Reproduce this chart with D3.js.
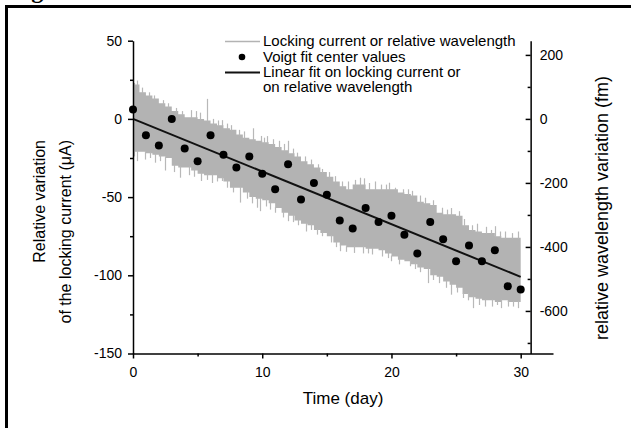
<!DOCTYPE html>
<html><head><meta charset="utf-8">
<script src="https://cdn.jsdelivr.net/npm/d3@7"></script>
<style>
body{margin:0;background:#fff}
svg{display:block}
text{font-family:"Liberation Sans",Arial,Helvetica,sans-serif;fill:#000}
</style>
</head><body>
<svg id="chart" width="631" height="428"></svg>
<script>
// ---------- data ----------
const voigtDays = [0,1,2,3,4,5,6,7,8,9,10,11,12,13,14,15,16,17,18,19,20,21,22,23,24,25,26,27,28,29,30];
const voigtValues = [6,-10.5,-17,0,-19,-27,-10.5,-23,-31,-24,-35,-45,-29,-51.5,-41,-48.5,-65,-70,-57,-66,-62,-74,-86,-66,-77,-91,-81,-91,-84,-107,-109];
const fitDays = [0,30];
const fitValues = [0,-101];
const bandStep = 0.5;
const bandUpper = [22,17,15,13,10,8,5,3,1,1,0,-1,-3,-4,-6,-7,-10,-12,-13,-14,-15,-16,-18,-20,-22,-24,-27,-29,-31,-34,-37,-40,-43,-45,-42,-42,-45,-45,-45,-45,-45,-47,-48,-49,-53,-54,-55,-60,-61,-61,-62,-68,-71,-72,-73,-73,-75,-76,-76,-76,-76];
const bandLower = [-21,-21,-22,-23,-24,-25,-30,-31,-31,-33,-35,-36,-36,-38,-40,-44,-44,-47,-50,-51,-52,-54,-57,-60,-62,-65,-67,-68,-71,-73,-75,-79,-81,-82,-82,-82,-83,-83,-84,-86,-88,-90,-91,-93,-95,-96,-100,-101,-104,-106,-108,-112,-114,-115,-116,-116,-117,-116,-117,-117,-117];
const spikesUp = [[0.1,23],[0.3,24.5],[0.7,20],[1.2,17],[1.6,15],[2.3,12],[2.7,10],[3.3,7],[3.8,5],[4.5,5.6],[4.9,5],[5.2,4],[5.7,12.8],[6.2,0],[6.6,-1],[6.9,-0.8],[7.3,-3],[7.6,-4],[8.2,-7],[8.6,-8],[9.3,-6],[9.9,-10.9],[10.1,-12],[10.4,-11],[10.8,-13],[11.3,-14],[11.7,-16],[12,-14],[12.4,-19],[12.7,-21.6],[13.3,-24],[13.8,-26],[14.3,-29],[14.6,-32],[15.2,-34],[15.6,-36.6],[16.2,-40],[16.6,-40],[17.2,-39],[17.6,-37.6],[17.9,-38],[18.3,-41],[18.7,-40],[19.2,-42],[19.6,-42],[19.8,-40.8],[20.3,-44],[20.9,-45],[21.3,-45],[21.6,-46],[22.2,-49],[22.6,-50.4],[23.2,-52],[23.9,-56.8],[24.3,-58],[24.6,-57],[25.2,-59],[25.6,-64],[26.2,-68],[26.6,-67],[27.3,-69],[27.7,-71],[28.0,-68.6],[28.4,-72],[28.8,-72],[29.3,-73],[29.8,-72]];
const spikesDown = [[0.1,-24],[0.3,-27],[0.9,-26],[1.3,-25],[1.7,-28],[2.1,-27],[2.5,-33],[3.2,-34],[3.6,-37.6],[4.3,-36],[4.7,-37],[5.3,-39.7],[5.7,-39],[6.1,-41],[6.5,-40],[6.9,-39.7],[7.3,-44],[7.7,-47],[8.3,-53.5],[8.8,-51],[9.2,-54],[9.6,-56.8],[9.8,-59],[10.3,-56],[10.6,-58],[11,-60],[11.6,-63],[12,-65.4],[12.4,-66],[12.8,-68],[13.4,-72],[13.8,-71],[14.2,-74],[14.6,-75],[15.3,-79],[15.7,-82],[16,-84.6],[16.5,-85],[17.1,-85.7],[17.8,-86],[18.2,-86],[18.5,-86.7],[19.3,-88],[19.7,-89],[20,-91],[20.6,-93],[21.4,-94.2],[21.8,-96],[22.2,-98],[22.8,-105],[23.2,-103],[23.7,-105],[24.2,-108],[24.6,-112.4],[25.1,-111],[25.5,-114.5],[25.9,-116],[26.3,-121],[26.8,-119],[27.2,-120],[27.8,-120],[28.2,-119],[28.5,-121],[29.0,-120],[29.4,-120],[29.8,-121]];
const xTicks = [0,10,20,30];
const xMinorTicks = [5,15,25];
const leftTicks = [50,0,-50,-100,-150];
const leftMinorTicks = [25,-25,-75,-125];
const rightTicks = [200,0,-200,-400,-600];
const rightMinorTicks = [100,-100,-300,-500,-700];
const xDomain = [0,32.5];
const leftDomain = [-150,50];
const rightDomain = [-733,244.4];
const rightAxisDay = 30.77;
const legendLabels = ["Locking current or relative wavelength","Voigt fit center values","Linear fit on locking current or","on relative wavelength"];
const xTitle = "Time (day)";
const leftTitle = ["Relative variation","of the locking current (\u03bcA)"];
const rightTitle = "relative wavelength variation (fm)";

// ---------- drawing ----------
const svg = d3.select("#chart");
const x = d3.scaleLinear().domain(xDomain).range([133,553]);
const yL = d3.scaleLinear().domain(leftDomain).range([353.5,40.7]);
const yR = d3.scaleLinear().domain(rightDomain).range([353.5,40.7]);
const plain = d => String(d);

// frame remnants
svg.append("text").attr("x",10).attr("y",-2).attr("font-size",24)
  .style("font-family","'Liberation Serif',serif").attr("font-weight","bold").text("Fig.");
svg.append("rect").attr("x",5).attr("y",5).attr("width",626).attr("height",3).attr("fill","#000");
svg.append("rect").attr("x",5).attr("y",5).attr("width",3).attr("height",423).attr("fill","#000");

// band
const bandData = bandUpper.map((u,i)=>({d:i*bandStep,u:u,l:bandLower[i]}));
svg.append("path").datum(bandData)
  .attr("d",d3.area().x(p=>x(p.d)).y0(p=>yL(p.l)).y1(p=>yL(p.u)).curve(d3.curveStepAfter))
  .attr("fill","#b3b3b3");
const envAt = (day,key)=>bandData[Math.min(bandData.length-1,Math.floor(day/bandStep))][key];
svg.append("g").selectAll("line").data(spikesUp).join("line")
  .attr("x1",p=>Math.round(x(p[0]))+0.5).attr("x2",p=>Math.round(x(p[0]))+0.5)
  .attr("y1",p=>yL(envAt(p[0],"u"))+1).attr("y2",p=>yL(p[1]))
  .attr("stroke","#b8b8b8").attr("stroke-width",1.2);
svg.append("g").selectAll("line").data(spikesDown).join("line")
  .attr("x1",p=>Math.round(x(p[0]))+0.5).attr("x2",p=>Math.round(x(p[0]))+0.5)
  .attr("y1",p=>yL(envAt(p[0],"l"))-1).attr("y2",p=>yL(p[1]))
  .attr("stroke","#b8b8b8").attr("stroke-width",1.2);

// fit line
svg.append("path").datum(fitDays.map((d,i)=>[d,fitValues[i]]))
  .attr("d",d3.line().x(p=>x(p[0])).y(p=>yL(p[1])))
  .attr("stroke","#111").attr("stroke-width",2).attr("fill","none");

// dots
svg.append("g").selectAll("circle").data(voigtDays).join("circle")
  .attr("cx",(d)=>x(d)).attr("cy",(d,i)=>yL(voigtValues[i])).attr("r",4).attr("fill","#000");

// axes
function styleAxis(g,fs){
  g.selectAll("path,line").attr("stroke","#000").attr("stroke-width",1.5);
  g.selectAll("text").attr("font-size",fs).style("font-family","'Liberation Sans',Arial,sans-serif");
}
const gx = svg.append("g").attr("transform",`translate(0,${yL(-150)})`)
  .call(d3.axisBottom(x).tickValues(xTicks).tickFormat(plain).tickSize(5).tickPadding(8.5).tickSizeOuter(0));
styleAxis(gx,14);
const gxm = svg.append("g").attr("transform",`translate(0,${yL(-150)})`)
  .call(d3.axisBottom(x).tickValues(xMinorTicks).tickSize(3).tickFormat("").tickSizeOuter(0));
styleAxis(gxm,14); gxm.select(".domain").remove();

const gl = svg.append("g").attr("transform",`translate(${x(0)},0)`)
  .call(d3.axisLeft(yL).tickValues(leftTicks).tickFormat(plain).tickSize(5).tickPadding(6).tickSizeOuter(0));
styleAxis(gl,14);
const glm = svg.append("g").attr("transform",`translate(${x(0)},0)`)
  .call(d3.axisLeft(yL).tickValues(leftMinorTicks).tickSize(3).tickFormat("").tickSizeOuter(0));
styleAxis(glm,14); glm.select(".domain").remove();

const gr = svg.append("g").attr("transform",`translate(${x(rightAxisDay)},0)`)
  .call(d3.axisRight(yR).tickValues(rightTicks).tickFormat(plain).tickSize(-5).tickPadding(9).tickSizeOuter(0));
styleAxis(gr,14);
const grm = svg.append("g").attr("transform",`translate(${x(rightAxisDay)},0)`)
  .call(d3.axisRight(yR).tickValues(rightMinorTicks).tickSize(-3).tickFormat("").tickSizeOuter(0));
styleAxis(grm,14); grm.select(".domain").remove();

// titles
svg.append("text").attr("x",(x.range()[0]+x.range()[1])/2).attr("y",404).attr("text-anchor","middle")
  .attr("font-size",17).text(xTitle);
leftTitle.forEach((t,i)=>{
  svg.append("text").attr("transform",`translate(${[45,71][i]},140) rotate(-90)`)
    .attr("text-anchor","end").attr("font-size",16).text(t);
});
svg.append("text").attr("transform",`translate(608,208) rotate(-90)`)
  .attr("text-anchor","middle").attr("font-size",18).text(rightTitle);

// legend
const lg = svg.append("g");
const rowY = [46,61.5,77,92];
lg.append("line").attr("x1",225).attr("x2",260).attr("y1",rowY[0]-4.5).attr("y2",rowY[0]-4.5)
  .attr("stroke","#b3b3b3").attr("stroke-width",1.5);
lg.append("circle").attr("cx",242).attr("cy",rowY[1]-4.5).attr("r",3.3).attr("fill","#000");
lg.append("line").attr("x1",225).attr("x2",260).attr("y1",rowY[2]-4.5).attr("y2",rowY[2]-4.5)
  .attr("stroke","#111").attr("stroke-width",2);
legendLabels.forEach((t,i)=>{
  lg.append("text").attr("x",263).attr("y",rowY[i]).attr("font-size",15).text(t);
});
</script>
</body></html>
